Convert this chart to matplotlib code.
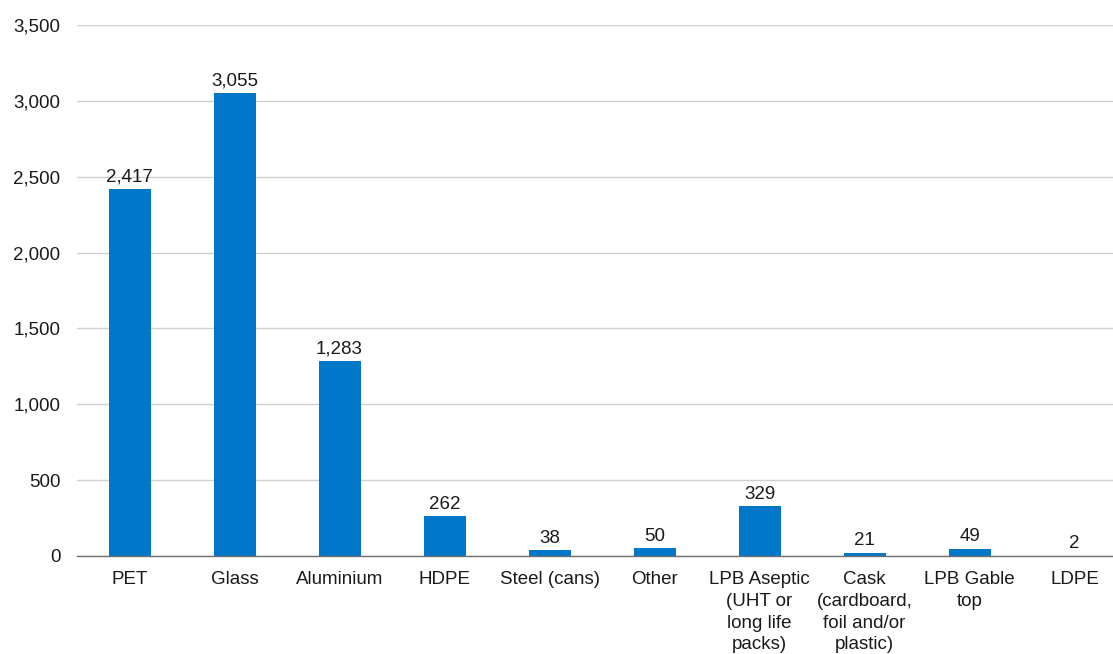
import matplotlib
matplotlib.use("Agg")
import matplotlib.pyplot as plt
from matplotlib.ticker import FuncFormatter

categories = ["PET", "Glass", "Aluminium", "HDPE", "Steel (cans)", "Other",
              "LPB Aseptic\n(UHT or\nlong life\npacks)",
              "Cask\n(cardboard,\nfoil and/or\nplastic)",
              "LPB Gable\ntop", "LDPE"]
values = [2417, 3055, 1283, 262, 38, 50, 329, 21, 49, 2]
yticks = [0, 500, 1000, 1500, 2000, 2500, 3000, 3500]

plt.rcParams['font.family'] = ['Liberation Sans', 'DejaVu Sans']
FS = 13.5

fig = plt.figure(figsize=(11.13, 6.54), dpi=100)
W, H = 1113, 654
ax = fig.add_axes([77 / W, 1 - 556 / H, (1127 - 77) / W, (556 - 25) / H])

x = list(range(len(categories)))
ax.bar(x, values, width=0.4, color="#0077C8", zorder=3)
for xi, v in zip(x, values):
    ax.annotate(f"{v:,}", (xi, v), xytext=(0, 2.5), textcoords="offset points",
                ha="center", va="bottom", fontsize=FS, color="#1a1a1a")

ax.set_xlim(-0.5, len(categories) - 0.5)
ax.set_ylim(0, 3500)
ax.set_yticks(yticks)
ax.yaxis.set_major_formatter(FuncFormatter(lambda v, p: f"{int(v):,}"))
ax.set_xticks(x)
ax.set_xticklabels(categories, linespacing=1.36)
ax.tick_params(axis="y", length=0, pad=12, labelsize=FS, labelcolor="#1a1a1a")
ax.tick_params(axis="x", length=0, pad=11, labelsize=FS, labelcolor="#1a1a1a")
ax.grid(axis="y", color="#d0d0d0", linewidth=1, zorder=0)
for s in ["top", "right", "left"]:
    ax.spines[s].set_visible(False)
ax.spines["bottom"].set_color("#707070")
ax.spines["bottom"].set_linewidth(1)
ax.spines["bottom"].set_zorder(4)

fig.savefig("out.png", dpi=100)
